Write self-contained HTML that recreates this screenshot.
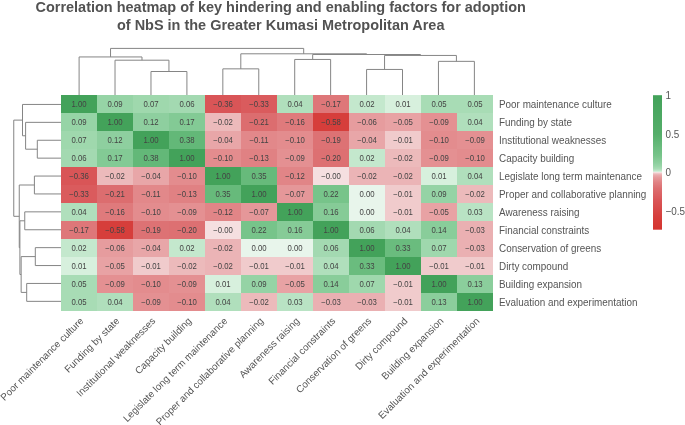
<!DOCTYPE html>
<html><head><meta charset="utf-8"><style>
html,body{margin:0;padding:0;background:#fff;}
svg{display:block;will-change:transform;font-family:"Liberation Sans",sans-serif;}
</style></head><body>
<svg width="685" height="425" viewBox="0 0 685 425">
<rect width="685" height="425" fill="#fff"/>
<g font-size="14.48" font-weight="bold" fill="#525252" text-anchor="middle"><text x="280.7" y="11.6">Correlation heatmap of key hindering and enabling factors for adoption</text><text x="280.7" y="29.7">of NbS in the Greater Kumasi Metropolitan Area</text></g>
<g shape-rendering="crispEdges"><rect x="61" y="95" width="36" height="18" fill="#43a25a"/><rect x="97" y="95" width="36" height="18" fill="#96d4a6"/><rect x="133" y="95" width="36" height="18" fill="#9fd8ad"/><rect x="169" y="95" width="36" height="18" fill="#a3d9b1"/><rect x="205" y="95" width="36" height="18" fill="#d95557"/><rect x="241" y="95" width="36" height="18" fill="#da5b5d"/><rect x="277" y="95" width="36" height="18" fill="#b0dfbc"/><rect x="313" y="95" width="36" height="18" fill="#de7779"/><rect x="349" y="95" width="36" height="18" fill="#c4e8cd"/><rect x="385" y="95" width="36" height="18" fill="#d7f0dd"/><rect x="421" y="95" width="36" height="18" fill="#a8dcb5"/><rect x="457" y="95" width="36" height="18" fill="#a8dcb5"/><rect x="61" y="113" width="36" height="18" fill="#96d4a6"/><rect x="97" y="113" width="36" height="18" fill="#43a25a"/><rect x="133" y="113" width="36" height="18" fill="#8ecf9f"/><rect x="169" y="113" width="36" height="18" fill="#83ca95"/><rect x="205" y="113" width="36" height="18" fill="#ecbabb"/><rect x="241" y="113" width="36" height="18" fill="#dc6d6f"/><rect x="277" y="113" width="36" height="18" fill="#df7a7c"/><rect x="313" y="113" width="36" height="18" fill="#d63e3b"/><rect x="349" y="113" width="36" height="18" fill="#e69c9e"/><rect x="385" y="113" width="36" height="18" fill="#e8a2a4"/><rect x="421" y="113" width="36" height="18" fill="#e49092"/><rect x="457" y="113" width="36" height="18" fill="#b0dfbc"/><rect x="61" y="131" width="36" height="18" fill="#9fd8ad"/><rect x="97" y="131" width="36" height="18" fill="#8ecf9f"/><rect x="133" y="131" width="36" height="18" fill="#43a25a"/><rect x="169" y="131" width="36" height="18" fill="#63b878"/><rect x="205" y="131" width="36" height="18" fill="#e8a6a8"/><rect x="241" y="131" width="36" height="18" fill="#e2888a"/><rect x="277" y="131" width="36" height="18" fill="#e38c8e"/><rect x="313" y="131" width="36" height="18" fill="#dd7274"/><rect x="349" y="131" width="36" height="18" fill="#e8a6a8"/><rect x="385" y="131" width="36" height="18" fill="#f0cbcc"/><rect x="421" y="131" width="36" height="18" fill="#e38c8e"/><rect x="457" y="131" width="36" height="18" fill="#e49092"/><rect x="61" y="149" width="36" height="18" fill="#a3d9b1"/><rect x="97" y="149" width="36" height="18" fill="#83ca95"/><rect x="133" y="149" width="36" height="18" fill="#63b878"/><rect x="169" y="149" width="36" height="18" fill="#43a25a"/><rect x="205" y="149" width="36" height="18" fill="#e38c8e"/><rect x="241" y="149" width="36" height="18" fill="#e08183"/><rect x="277" y="149" width="36" height="18" fill="#e49092"/><rect x="313" y="149" width="36" height="18" fill="#dd7072"/><rect x="349" y="149" width="36" height="18" fill="#c4e8cd"/><rect x="385" y="149" width="36" height="18" fill="#ecbabb"/><rect x="421" y="149" width="36" height="18" fill="#e49092"/><rect x="457" y="149" width="36" height="18" fill="#e38c8e"/><rect x="61" y="167" width="36" height="18" fill="#d95557"/><rect x="97" y="167" width="36" height="18" fill="#ecbabb"/><rect x="133" y="167" width="36" height="18" fill="#e8a6a8"/><rect x="169" y="167" width="36" height="18" fill="#e38c8e"/><rect x="205" y="167" width="36" height="18" fill="#43a25a"/><rect x="241" y="167" width="36" height="18" fill="#67ba7b"/><rect x="277" y="167" width="36" height="18" fill="#e18587"/><rect x="313" y="167" width="36" height="18" fill="#f5dfe0"/><rect x="349" y="167" width="36" height="18" fill="#ebb4b6"/><rect x="385" y="167" width="36" height="18" fill="#ebb4b6"/><rect x="421" y="167" width="36" height="18" fill="#d7f0dd"/><rect x="457" y="167" width="36" height="18" fill="#b0dfbc"/><rect x="61" y="185" width="36" height="18" fill="#da5b5d"/><rect x="97" y="185" width="36" height="18" fill="#dc6d6f"/><rect x="133" y="185" width="36" height="18" fill="#e2888a"/><rect x="169" y="185" width="36" height="18" fill="#e08183"/><rect x="205" y="185" width="36" height="18" fill="#67ba7b"/><rect x="241" y="185" width="36" height="18" fill="#43a25a"/><rect x="277" y="185" width="36" height="18" fill="#e59799"/><rect x="313" y="185" width="36" height="18" fill="#77c48a"/><rect x="349" y="185" width="36" height="18" fill="#e8f5eb"/><rect x="385" y="185" width="36" height="18" fill="#f0cbcc"/><rect x="421" y="185" width="36" height="18" fill="#95d3a5"/><rect x="457" y="185" width="36" height="18" fill="#ecbabb"/><rect x="61" y="203" width="36" height="18" fill="#b0dfbc"/><rect x="97" y="203" width="36" height="18" fill="#df7a7c"/><rect x="133" y="203" width="36" height="18" fill="#e38c8e"/><rect x="169" y="203" width="36" height="18" fill="#e49092"/><rect x="205" y="203" width="36" height="18" fill="#e18587"/><rect x="241" y="203" width="36" height="18" fill="#e59799"/><rect x="277" y="203" width="36" height="18" fill="#43a25a"/><rect x="313" y="203" width="36" height="18" fill="#86cb97"/><rect x="349" y="203" width="36" height="18" fill="#e8f5eb"/><rect x="385" y="203" width="36" height="18" fill="#f0cbcc"/><rect x="421" y="203" width="36" height="18" fill="#e8a2a4"/><rect x="457" y="203" width="36" height="18" fill="#b9e3c4"/><rect x="61" y="221" width="36" height="18" fill="#de7779"/><rect x="97" y="221" width="36" height="18" fill="#d63e3b"/><rect x="133" y="221" width="36" height="18" fill="#dd7274"/><rect x="169" y="221" width="36" height="18" fill="#dd7072"/><rect x="205" y="221" width="36" height="18" fill="#f5dfe0"/><rect x="241" y="221" width="36" height="18" fill="#77c48a"/><rect x="277" y="221" width="36" height="18" fill="#86cb97"/><rect x="313" y="221" width="36" height="18" fill="#43a25a"/><rect x="349" y="221" width="36" height="18" fill="#a3d9b1"/><rect x="385" y="221" width="36" height="18" fill="#b0dfbc"/><rect x="421" y="221" width="36" height="18" fill="#89cd9a"/><rect x="457" y="221" width="36" height="18" fill="#eab0b2"/><rect x="61" y="239" width="36" height="18" fill="#c4e8cd"/><rect x="97" y="239" width="36" height="18" fill="#e69c9e"/><rect x="133" y="239" width="36" height="18" fill="#e8a6a8"/><rect x="169" y="239" width="36" height="18" fill="#c4e8cd"/><rect x="205" y="239" width="36" height="18" fill="#ebb4b6"/><rect x="241" y="239" width="36" height="18" fill="#e8f5eb"/><rect x="277" y="239" width="36" height="18" fill="#e8f5eb"/><rect x="313" y="239" width="36" height="18" fill="#a3d9b1"/><rect x="349" y="239" width="36" height="18" fill="#43a25a"/><rect x="385" y="239" width="36" height="18" fill="#6abc7e"/><rect x="421" y="239" width="36" height="18" fill="#9fd8ad"/><rect x="457" y="239" width="36" height="18" fill="#eab0b2"/><rect x="61" y="257" width="36" height="18" fill="#d7f0dd"/><rect x="97" y="257" width="36" height="18" fill="#e8a2a4"/><rect x="133" y="257" width="36" height="18" fill="#f0cbcc"/><rect x="169" y="257" width="36" height="18" fill="#ecbabb"/><rect x="205" y="257" width="36" height="18" fill="#ebb4b6"/><rect x="241" y="257" width="36" height="18" fill="#f0cbcc"/><rect x="277" y="257" width="36" height="18" fill="#f0cbcc"/><rect x="313" y="257" width="36" height="18" fill="#b0dfbc"/><rect x="349" y="257" width="36" height="18" fill="#6abc7e"/><rect x="385" y="257" width="36" height="18" fill="#43a25a"/><rect x="421" y="257" width="36" height="18" fill="#f0cbcc"/><rect x="457" y="257" width="36" height="18" fill="#f0cbcc"/><rect x="61" y="275" width="36" height="18" fill="#a8dcb5"/><rect x="97" y="275" width="36" height="18" fill="#e49092"/><rect x="133" y="275" width="36" height="18" fill="#e38c8e"/><rect x="169" y="275" width="36" height="18" fill="#e49092"/><rect x="205" y="275" width="36" height="18" fill="#d7f0dd"/><rect x="241" y="275" width="36" height="18" fill="#95d3a5"/><rect x="277" y="275" width="36" height="18" fill="#e8a2a4"/><rect x="313" y="275" width="36" height="18" fill="#89cd9a"/><rect x="349" y="275" width="36" height="18" fill="#9fd8ad"/><rect x="385" y="275" width="36" height="18" fill="#f0cbcc"/><rect x="421" y="275" width="36" height="18" fill="#43a25a"/><rect x="457" y="275" width="36" height="18" fill="#8bce9c"/><rect x="61" y="293" width="36" height="18" fill="#a8dcb5"/><rect x="97" y="293" width="36" height="18" fill="#b0dfbc"/><rect x="133" y="293" width="36" height="18" fill="#e49092"/><rect x="169" y="293" width="36" height="18" fill="#e38c8e"/><rect x="205" y="293" width="36" height="18" fill="#b0dfbc"/><rect x="241" y="293" width="36" height="18" fill="#ecbabb"/><rect x="277" y="293" width="36" height="18" fill="#b9e3c4"/><rect x="313" y="293" width="36" height="18" fill="#eab0b2"/><rect x="349" y="293" width="36" height="18" fill="#eab0b2"/><rect x="385" y="293" width="36" height="18" fill="#f0cbcc"/><rect x="421" y="293" width="36" height="18" fill="#8bce9c"/><rect x="457" y="293" width="36" height="18" fill="#43a25a"/></g>
<g font-size="7.8" fill="#444" text-anchor="middle"><text transform="translate(79.0,106.95) scale(1,1.1)">1.00</text><text transform="translate(115.0,106.95) scale(1,1.1)">0.09</text><text transform="translate(151.0,106.95) scale(1,1.1)">0.07</text><text transform="translate(187.0,106.95) scale(1,1.1)">0.06</text><text transform="translate(223.0,106.95) scale(1,1.1)">−0.36</text><text transform="translate(259.0,106.95) scale(1,1.1)">−0.33</text><text transform="translate(295.0,106.95) scale(1,1.1)">0.04</text><text transform="translate(331.0,106.95) scale(1,1.1)">−0.17</text><text transform="translate(367.0,106.95) scale(1,1.1)">0.02</text><text transform="translate(403.0,106.95) scale(1,1.1)">0.01</text><text transform="translate(439.0,106.95) scale(1,1.1)">0.05</text><text transform="translate(475.0,106.95) scale(1,1.1)">0.05</text><text transform="translate(79.0,124.95) scale(1,1.1)">0.09</text><text transform="translate(115.0,124.95) scale(1,1.1)">1.00</text><text transform="translate(151.0,124.95) scale(1,1.1)">0.12</text><text transform="translate(187.0,124.95) scale(1,1.1)">0.17</text><text transform="translate(223.0,124.95) scale(1,1.1)">−0.02</text><text transform="translate(259.0,124.95) scale(1,1.1)">−0.21</text><text transform="translate(295.0,124.95) scale(1,1.1)">−0.16</text><text transform="translate(331.0,124.95) scale(1,1.1)">−0.58</text><text transform="translate(367.0,124.95) scale(1,1.1)">−0.06</text><text transform="translate(403.0,124.95) scale(1,1.1)">−0.05</text><text transform="translate(439.0,124.95) scale(1,1.1)">−0.09</text><text transform="translate(475.0,124.95) scale(1,1.1)">0.04</text><text transform="translate(79.0,142.95) scale(1,1.1)">0.07</text><text transform="translate(115.0,142.95) scale(1,1.1)">0.12</text><text transform="translate(151.0,142.95) scale(1,1.1)">1.00</text><text transform="translate(187.0,142.95) scale(1,1.1)">0.38</text><text transform="translate(223.0,142.95) scale(1,1.1)">−0.04</text><text transform="translate(259.0,142.95) scale(1,1.1)">−0.11</text><text transform="translate(295.0,142.95) scale(1,1.1)">−0.10</text><text transform="translate(331.0,142.95) scale(1,1.1)">−0.19</text><text transform="translate(367.0,142.95) scale(1,1.1)">−0.04</text><text transform="translate(403.0,142.95) scale(1,1.1)">−0.01</text><text transform="translate(439.0,142.95) scale(1,1.1)">−0.10</text><text transform="translate(475.0,142.95) scale(1,1.1)">−0.09</text><text transform="translate(79.0,160.95) scale(1,1.1)">0.06</text><text transform="translate(115.0,160.95) scale(1,1.1)">0.17</text><text transform="translate(151.0,160.95) scale(1,1.1)">0.38</text><text transform="translate(187.0,160.95) scale(1,1.1)">1.00</text><text transform="translate(223.0,160.95) scale(1,1.1)">−0.10</text><text transform="translate(259.0,160.95) scale(1,1.1)">−0.13</text><text transform="translate(295.0,160.95) scale(1,1.1)">−0.09</text><text transform="translate(331.0,160.95) scale(1,1.1)">−0.20</text><text transform="translate(367.0,160.95) scale(1,1.1)">0.02</text><text transform="translate(403.0,160.95) scale(1,1.1)">−0.02</text><text transform="translate(439.0,160.95) scale(1,1.1)">−0.09</text><text transform="translate(475.0,160.95) scale(1,1.1)">−0.10</text><text transform="translate(79.0,178.95) scale(1,1.1)">−0.36</text><text transform="translate(115.0,178.95) scale(1,1.1)">−0.02</text><text transform="translate(151.0,178.95) scale(1,1.1)">−0.04</text><text transform="translate(187.0,178.95) scale(1,1.1)">−0.10</text><text transform="translate(223.0,178.95) scale(1,1.1)">1.00</text><text transform="translate(259.0,178.95) scale(1,1.1)">0.35</text><text transform="translate(295.0,178.95) scale(1,1.1)">−0.12</text><text transform="translate(331.0,178.95) scale(1,1.1)">−0.00</text><text transform="translate(367.0,178.95) scale(1,1.1)">−0.02</text><text transform="translate(403.0,178.95) scale(1,1.1)">−0.02</text><text transform="translate(439.0,178.95) scale(1,1.1)">0.01</text><text transform="translate(475.0,178.95) scale(1,1.1)">0.04</text><text transform="translate(79.0,196.95) scale(1,1.1)">−0.33</text><text transform="translate(115.0,196.95) scale(1,1.1)">−0.21</text><text transform="translate(151.0,196.95) scale(1,1.1)">−0.11</text><text transform="translate(187.0,196.95) scale(1,1.1)">−0.13</text><text transform="translate(223.0,196.95) scale(1,1.1)">0.35</text><text transform="translate(259.0,196.95) scale(1,1.1)">1.00</text><text transform="translate(295.0,196.95) scale(1,1.1)">−0.07</text><text transform="translate(331.0,196.95) scale(1,1.1)">0.22</text><text transform="translate(367.0,196.95) scale(1,1.1)">0.00</text><text transform="translate(403.0,196.95) scale(1,1.1)">−0.01</text><text transform="translate(439.0,196.95) scale(1,1.1)">0.09</text><text transform="translate(475.0,196.95) scale(1,1.1)">−0.02</text><text transform="translate(79.0,214.95) scale(1,1.1)">0.04</text><text transform="translate(115.0,214.95) scale(1,1.1)">−0.16</text><text transform="translate(151.0,214.95) scale(1,1.1)">−0.10</text><text transform="translate(187.0,214.95) scale(1,1.1)">−0.09</text><text transform="translate(223.0,214.95) scale(1,1.1)">−0.12</text><text transform="translate(259.0,214.95) scale(1,1.1)">−0.07</text><text transform="translate(295.0,214.95) scale(1,1.1)">1.00</text><text transform="translate(331.0,214.95) scale(1,1.1)">0.16</text><text transform="translate(367.0,214.95) scale(1,1.1)">0.00</text><text transform="translate(403.0,214.95) scale(1,1.1)">−0.01</text><text transform="translate(439.0,214.95) scale(1,1.1)">−0.05</text><text transform="translate(475.0,214.95) scale(1,1.1)">0.03</text><text transform="translate(79.0,232.95) scale(1,1.1)">−0.17</text><text transform="translate(115.0,232.95) scale(1,1.1)">−0.58</text><text transform="translate(151.0,232.95) scale(1,1.1)">−0.19</text><text transform="translate(187.0,232.95) scale(1,1.1)">−0.20</text><text transform="translate(223.0,232.95) scale(1,1.1)">−0.00</text><text transform="translate(259.0,232.95) scale(1,1.1)">0.22</text><text transform="translate(295.0,232.95) scale(1,1.1)">0.16</text><text transform="translate(331.0,232.95) scale(1,1.1)">1.00</text><text transform="translate(367.0,232.95) scale(1,1.1)">0.06</text><text transform="translate(403.0,232.95) scale(1,1.1)">0.04</text><text transform="translate(439.0,232.95) scale(1,1.1)">0.14</text><text transform="translate(475.0,232.95) scale(1,1.1)">−0.03</text><text transform="translate(79.0,250.95) scale(1,1.1)">0.02</text><text transform="translate(115.0,250.95) scale(1,1.1)">−0.06</text><text transform="translate(151.0,250.95) scale(1,1.1)">−0.04</text><text transform="translate(187.0,250.95) scale(1,1.1)">0.02</text><text transform="translate(223.0,250.95) scale(1,1.1)">−0.02</text><text transform="translate(259.0,250.95) scale(1,1.1)">0.00</text><text transform="translate(295.0,250.95) scale(1,1.1)">0.00</text><text transform="translate(331.0,250.95) scale(1,1.1)">0.06</text><text transform="translate(367.0,250.95) scale(1,1.1)">1.00</text><text transform="translate(403.0,250.95) scale(1,1.1)">0.33</text><text transform="translate(439.0,250.95) scale(1,1.1)">0.07</text><text transform="translate(475.0,250.95) scale(1,1.1)">−0.03</text><text transform="translate(79.0,268.95) scale(1,1.1)">0.01</text><text transform="translate(115.0,268.95) scale(1,1.1)">−0.05</text><text transform="translate(151.0,268.95) scale(1,1.1)">−0.01</text><text transform="translate(187.0,268.95) scale(1,1.1)">−0.02</text><text transform="translate(223.0,268.95) scale(1,1.1)">−0.02</text><text transform="translate(259.0,268.95) scale(1,1.1)">−0.01</text><text transform="translate(295.0,268.95) scale(1,1.1)">−0.01</text><text transform="translate(331.0,268.95) scale(1,1.1)">0.04</text><text transform="translate(367.0,268.95) scale(1,1.1)">0.33</text><text transform="translate(403.0,268.95) scale(1,1.1)">1.00</text><text transform="translate(439.0,268.95) scale(1,1.1)">−0.01</text><text transform="translate(475.0,268.95) scale(1,1.1)">−0.01</text><text transform="translate(79.0,286.95) scale(1,1.1)">0.05</text><text transform="translate(115.0,286.95) scale(1,1.1)">−0.09</text><text transform="translate(151.0,286.95) scale(1,1.1)">−0.10</text><text transform="translate(187.0,286.95) scale(1,1.1)">−0.09</text><text transform="translate(223.0,286.95) scale(1,1.1)">0.01</text><text transform="translate(259.0,286.95) scale(1,1.1)">0.09</text><text transform="translate(295.0,286.95) scale(1,1.1)">−0.05</text><text transform="translate(331.0,286.95) scale(1,1.1)">0.14</text><text transform="translate(367.0,286.95) scale(1,1.1)">0.07</text><text transform="translate(403.0,286.95) scale(1,1.1)">−0.01</text><text transform="translate(439.0,286.95) scale(1,1.1)">1.00</text><text transform="translate(475.0,286.95) scale(1,1.1)">0.13</text><text transform="translate(79.0,304.95) scale(1,1.1)">0.05</text><text transform="translate(115.0,304.95) scale(1,1.1)">0.04</text><text transform="translate(151.0,304.95) scale(1,1.1)">−0.09</text><text transform="translate(187.0,304.95) scale(1,1.1)">−0.10</text><text transform="translate(223.0,304.95) scale(1,1.1)">0.04</text><text transform="translate(259.0,304.95) scale(1,1.1)">−0.02</text><text transform="translate(295.0,304.95) scale(1,1.1)">0.03</text><text transform="translate(331.0,304.95) scale(1,1.1)">−0.03</text><text transform="translate(367.0,304.95) scale(1,1.1)">−0.03</text><text transform="translate(403.0,304.95) scale(1,1.1)">−0.01</text><text transform="translate(439.0,304.95) scale(1,1.1)">0.13</text><text transform="translate(475.0,304.95) scale(1,1.1)">1.00</text></g>
<g fill="none" stroke="#858585" stroke-width="1"><polyline points="150.97,95.00 150.97,71.50 186.91,71.50 186.91,95.00"/><polyline points="115.03,95.00 115.03,60.20 168.94,60.20 168.94,71.50"/><polyline points="79.10,95.00 79.10,56.95 141.99,56.95 141.99,60.20"/><polyline points="222.84,95.00 222.84,68.85 258.77,68.85 258.77,95.00"/><polyline points="294.71,95.00 294.71,59.45 330.64,59.45 330.64,95.00"/><polyline points="366.58,95.00 366.58,69.45 402.51,69.45 402.51,95.00"/><polyline points="438.45,95.00 438.45,61.35 474.38,61.35 474.38,95.00"/><polyline points="384.55,69.45 384.55,55.45 456.42,55.45 456.42,61.35"/><polyline points="312.68,59.45 312.68,54.50 420.48,54.50 420.48,55.45"/><polyline points="240.81,68.85 240.81,53.80 366.58,53.80 366.58,54.50"/><polyline points="110.54,56.95 110.54,48.40 303.69,48.40 303.69,53.80"/><polyline points="61.00,140.25 37.30,140.25 37.30,158.15 61.00,158.15"/><polyline points="61.00,122.35 25.60,122.35 25.60,149.20 37.30,149.20"/><polyline points="61.00,104.45 22.50,104.45 22.50,135.77 25.60,135.77"/><polyline points="61.00,176.05 34.40,176.05 34.40,193.95 61.00,193.95"/><polyline points="61.00,211.85 24.75,211.85 24.75,229.75 61.00,229.75"/><polyline points="61.00,247.65 35.30,247.65 35.30,265.55 61.00,265.55"/><polyline points="61.00,283.45 26.70,283.45 26.70,301.35 61.00,301.35"/><polyline points="35.30,256.60 21.15,256.60 21.15,292.40 26.70,292.40"/><polyline points="24.75,220.80 19.90,220.80 19.90,274.50 21.15,274.50"/><polyline points="34.40,185.00 19.25,185.00 19.25,247.65 19.90,247.65"/><polyline points="22.50,120.11 13.75,120.11 13.75,216.32 19.25,216.32"/></g>
<g font-size="9.9" fill="#555"><text transform="translate(499.00,107.55) scale(1,1.09)">Poor maintenance culture</text><text transform="translate(499.00,125.55) scale(1,1.09)">Funding by state</text><text transform="translate(499.00,143.55) scale(1,1.09)">Institutional weaknesses</text><text transform="translate(499.00,161.55) scale(1,1.09)">Capacity building</text><text transform="translate(499.00,179.55) scale(1,1.09)">Legislate long term maintenance</text><text transform="translate(499.00,197.55) scale(1,1.09)">Proper and collaborative planning</text><text transform="translate(499.00,215.55) scale(1,1.09)">Awareness raising</text><text transform="translate(499.00,233.55) scale(1,1.09)">Financial constraints</text><text transform="translate(499.00,251.55) scale(1,1.09)">Conservation of greens</text><text transform="translate(499.00,269.55) scale(1,1.09)">Dirty compound</text><text transform="translate(499.00,287.55) scale(1,1.09)">Building expansion</text><text transform="translate(499.00,305.55) scale(1,1.09)">Evaluation and experimentation</text></g>
<g font-size="9.9" fill="#555"><text transform="translate(79.0,316.5) rotate(-45)" text-anchor="end" dominant-baseline="hanging">Poor maintenance culture</text><text transform="translate(115.0,316.5) rotate(-45)" text-anchor="end" dominant-baseline="hanging">Funding by state</text><text transform="translate(151.0,316.5) rotate(-45)" text-anchor="end" dominant-baseline="hanging">Institutional weaknesses</text><text transform="translate(187.0,316.5) rotate(-45)" text-anchor="end" dominant-baseline="hanging">Capacity building</text><text transform="translate(223.0,316.5) rotate(-45)" text-anchor="end" dominant-baseline="hanging">Legislate long term maintenance</text><text transform="translate(259.0,316.5) rotate(-45)" text-anchor="end" dominant-baseline="hanging">Proper and collaborative planning</text><text transform="translate(295.0,316.5) rotate(-45)" text-anchor="end" dominant-baseline="hanging">Awareness raising</text><text transform="translate(331.0,316.5) rotate(-45)" text-anchor="end" dominant-baseline="hanging">Financial constraints</text><text transform="translate(367.0,316.5) rotate(-45)" text-anchor="end" dominant-baseline="hanging">Conservation of greens</text><text transform="translate(403.0,316.5) rotate(-45)" text-anchor="end" dominant-baseline="hanging">Dirty compound</text><text transform="translate(439.0,316.5) rotate(-45)" text-anchor="end" dominant-baseline="hanging">Building expansion</text><text transform="translate(475.0,316.5) rotate(-45)" text-anchor="end" dominant-baseline="hanging">Evaluation and experimentation</text></g>
<defs><linearGradient id="lg" x1="0" y1="0" x2="0" y2="1"><stop offset="0.0000" stop-color="#43a25a"/><stop offset="0.0050" stop-color="#43a25a"/><stop offset="0.0100" stop-color="#43a25a"/><stop offset="0.0150" stop-color="#44a35b"/><stop offset="0.0200" stop-color="#44a35b"/><stop offset="0.0250" stop-color="#44a35b"/><stop offset="0.0300" stop-color="#45a35c"/><stop offset="0.0350" stop-color="#45a35c"/><stop offset="0.0400" stop-color="#45a45c"/><stop offset="0.0450" stop-color="#46a45c"/><stop offset="0.0500" stop-color="#46a45d"/><stop offset="0.0550" stop-color="#46a45d"/><stop offset="0.0600" stop-color="#47a45d"/><stop offset="0.0650" stop-color="#47a55e"/><stop offset="0.0700" stop-color="#47a55e"/><stop offset="0.0750" stop-color="#48a55e"/><stop offset="0.0800" stop-color="#48a55e"/><stop offset="0.0850" stop-color="#48a55f"/><stop offset="0.0900" stop-color="#49a65f"/><stop offset="0.0950" stop-color="#49a65f"/><stop offset="0.1000" stop-color="#49a65f"/><stop offset="0.1050" stop-color="#49a660"/><stop offset="0.1100" stop-color="#4aa760"/><stop offset="0.1150" stop-color="#4aa760"/><stop offset="0.1200" stop-color="#4aa761"/><stop offset="0.1250" stop-color="#4ba761"/><stop offset="0.1300" stop-color="#4ba761"/><stop offset="0.1350" stop-color="#4ba861"/><stop offset="0.1400" stop-color="#4ca862"/><stop offset="0.1450" stop-color="#4ca862"/><stop offset="0.1500" stop-color="#4ca862"/><stop offset="0.1550" stop-color="#4da863"/><stop offset="0.1600" stop-color="#4da963"/><stop offset="0.1650" stop-color="#4da963"/><stop offset="0.1700" stop-color="#4ea963"/><stop offset="0.1750" stop-color="#4ea964"/><stop offset="0.1800" stop-color="#4ea964"/><stop offset="0.1850" stop-color="#4eaa64"/><stop offset="0.1900" stop-color="#4faa64"/><stop offset="0.1950" stop-color="#4faa65"/><stop offset="0.2000" stop-color="#4faa65"/><stop offset="0.2050" stop-color="#50ab65"/><stop offset="0.2100" stop-color="#50ab66"/><stop offset="0.2150" stop-color="#50ab66"/><stop offset="0.2200" stop-color="#51ab66"/><stop offset="0.2250" stop-color="#51ab66"/><stop offset="0.2300" stop-color="#51ac67"/><stop offset="0.2350" stop-color="#52ac67"/><stop offset="0.2400" stop-color="#52ac67"/><stop offset="0.2450" stop-color="#52ac68"/><stop offset="0.2500" stop-color="#53ac68"/><stop offset="0.2550" stop-color="#53ad68"/><stop offset="0.2600" stop-color="#53ad68"/><stop offset="0.2650" stop-color="#54ad69"/><stop offset="0.2700" stop-color="#54ad69"/><stop offset="0.2750" stop-color="#54ad69"/><stop offset="0.2800" stop-color="#54ae6a"/><stop offset="0.2850" stop-color="#55ae6a"/><stop offset="0.2900" stop-color="#55ae6a"/><stop offset="0.2950" stop-color="#56af6b"/><stop offset="0.3000" stop-color="#57b06c"/><stop offset="0.3050" stop-color="#58b06d"/><stop offset="0.3100" stop-color="#59b16e"/><stop offset="0.3150" stop-color="#5ab26f"/><stop offset="0.3200" stop-color="#5bb370"/><stop offset="0.3250" stop-color="#5cb371"/><stop offset="0.3300" stop-color="#5db472"/><stop offset="0.3350" stop-color="#5eb573"/><stop offset="0.3400" stop-color="#60b674"/><stop offset="0.3450" stop-color="#61b676"/><stop offset="0.3500" stop-color="#62b777"/><stop offset="0.3550" stop-color="#63b878"/><stop offset="0.3600" stop-color="#64b878"/><stop offset="0.3650" stop-color="#65b979"/><stop offset="0.3700" stop-color="#66b97a"/><stop offset="0.3750" stop-color="#67ba7b"/><stop offset="0.3800" stop-color="#68bb7c"/><stop offset="0.3850" stop-color="#6abc7e"/><stop offset="0.3900" stop-color="#6bbd7f"/><stop offset="0.3950" stop-color="#6cbd80"/><stop offset="0.4000" stop-color="#6dbe81"/><stop offset="0.4050" stop-color="#6ebe82"/><stop offset="0.4100" stop-color="#6fbf83"/><stop offset="0.4150" stop-color="#70c084"/><stop offset="0.4200" stop-color="#71c085"/><stop offset="0.4250" stop-color="#72c185"/><stop offset="0.4300" stop-color="#73c286"/><stop offset="0.4350" stop-color="#74c287"/><stop offset="0.4400" stop-color="#75c388"/><stop offset="0.4450" stop-color="#76c489"/><stop offset="0.4500" stop-color="#78c48a"/><stop offset="0.4550" stop-color="#7ac58c"/><stop offset="0.4600" stop-color="#7cc68e"/><stop offset="0.4650" stop-color="#7ec790"/><stop offset="0.4700" stop-color="#80c892"/><stop offset="0.4750" stop-color="#82c994"/><stop offset="0.4800" stop-color="#84ca96"/><stop offset="0.4850" stop-color="#86cb97"/><stop offset="0.4900" stop-color="#88cc99"/><stop offset="0.4950" stop-color="#89cd9a"/><stop offset="0.5000" stop-color="#8bce9c"/><stop offset="0.5050" stop-color="#8dcf9e"/><stop offset="0.5100" stop-color="#90d0a1"/><stop offset="0.5150" stop-color="#92d2a3"/><stop offset="0.5200" stop-color="#95d3a5"/><stop offset="0.5250" stop-color="#97d5a7"/><stop offset="0.5300" stop-color="#9bd6aa"/><stop offset="0.5350" stop-color="#9fd8ad"/><stop offset="0.5400" stop-color="#a3d9b1"/><stop offset="0.5450" stop-color="#a7dbb4"/><stop offset="0.5500" stop-color="#addeba"/><stop offset="0.5550" stop-color="#b5e1c0"/><stop offset="0.5600" stop-color="#bee5c8"/><stop offset="0.5650" stop-color="#caead2"/><stop offset="0.5700" stop-color="#daf1e0"/><stop offset="0.5750" stop-color="#f5dedf"/><stop offset="0.5800" stop-color="#f0cdce"/><stop offset="0.5850" stop-color="#edbdbe"/><stop offset="0.5900" stop-color="#ebb3b5"/><stop offset="0.5950" stop-color="#e9abad"/><stop offset="0.6000" stop-color="#e8a4a6"/><stop offset="0.6050" stop-color="#e7a0a2"/><stop offset="0.6100" stop-color="#e69b9d"/><stop offset="0.6150" stop-color="#e59799"/><stop offset="0.6200" stop-color="#e59496"/><stop offset="0.6250" stop-color="#e49193"/><stop offset="0.6300" stop-color="#e38d8f"/><stop offset="0.6350" stop-color="#e28a8c"/><stop offset="0.6400" stop-color="#e28789"/><stop offset="0.6450" stop-color="#e18486"/><stop offset="0.6500" stop-color="#e08183"/><stop offset="0.6550" stop-color="#e07f81"/><stop offset="0.6600" stop-color="#df7d7f"/><stop offset="0.6650" stop-color="#df7b7d"/><stop offset="0.6700" stop-color="#de787a"/><stop offset="0.6750" stop-color="#de7678"/><stop offset="0.6800" stop-color="#dd7476"/><stop offset="0.6850" stop-color="#dd7173"/><stop offset="0.6900" stop-color="#dd7072"/><stop offset="0.6950" stop-color="#dc6d6f"/><stop offset="0.7000" stop-color="#dc6c6e"/><stop offset="0.7050" stop-color="#dc6a6c"/><stop offset="0.7100" stop-color="#dc696b"/><stop offset="0.7150" stop-color="#db686a"/><stop offset="0.7200" stop-color="#db6668"/><stop offset="0.7250" stop-color="#db6567"/><stop offset="0.7300" stop-color="#db6466"/><stop offset="0.7350" stop-color="#db6264"/><stop offset="0.7400" stop-color="#db6163"/><stop offset="0.7450" stop-color="#db6062"/><stop offset="0.7500" stop-color="#da5f61"/><stop offset="0.7550" stop-color="#da5d5f"/><stop offset="0.7600" stop-color="#da5c5e"/><stop offset="0.7650" stop-color="#da5b5d"/><stop offset="0.7700" stop-color="#da595b"/><stop offset="0.7750" stop-color="#d95759"/><stop offset="0.7800" stop-color="#d95557"/><stop offset="0.7850" stop-color="#d95456"/><stop offset="0.7900" stop-color="#d95355"/><stop offset="0.7950" stop-color="#d95254"/><stop offset="0.8000" stop-color="#d95153"/><stop offset="0.8050" stop-color="#d85152"/><stop offset="0.8100" stop-color="#d85051"/><stop offset="0.8150" stop-color="#d84f4f"/><stop offset="0.8200" stop-color="#d84e4e"/><stop offset="0.8250" stop-color="#d84d4d"/><stop offset="0.8300" stop-color="#d84c4c"/><stop offset="0.8350" stop-color="#d84b4b"/><stop offset="0.8400" stop-color="#d84a4a"/><stop offset="0.8450" stop-color="#d74949"/><stop offset="0.8500" stop-color="#d74848"/><stop offset="0.8550" stop-color="#d74747"/><stop offset="0.8600" stop-color="#d74745"/><stop offset="0.8650" stop-color="#d74644"/><stop offset="0.8700" stop-color="#d74543"/><stop offset="0.8750" stop-color="#d74442"/><stop offset="0.8800" stop-color="#d74341"/><stop offset="0.8850" stop-color="#d74240"/><stop offset="0.8900" stop-color="#d6413f"/><stop offset="0.8950" stop-color="#d6403e"/><stop offset="0.9000" stop-color="#d63f3d"/><stop offset="0.9050" stop-color="#d63e3b"/><stop offset="0.9100" stop-color="#d63e3b"/><stop offset="0.9150" stop-color="#d63d3a"/><stop offset="0.9200" stop-color="#d63d39"/><stop offset="0.9250" stop-color="#d63c39"/><stop offset="0.9300" stop-color="#d63c38"/><stop offset="0.9350" stop-color="#d63b38"/><stop offset="0.9400" stop-color="#d63b37"/><stop offset="0.9450" stop-color="#d63a36"/><stop offset="0.9500" stop-color="#d63a36"/><stop offset="0.9550" stop-color="#d63935"/><stop offset="0.9600" stop-color="#d53934"/><stop offset="0.9650" stop-color="#d53834"/><stop offset="0.9700" stop-color="#d53833"/><stop offset="0.9750" stop-color="#d53733"/><stop offset="0.9800" stop-color="#d53632"/><stop offset="0.9850" stop-color="#d53631"/><stop offset="0.9900" stop-color="#d53531"/><stop offset="0.9950" stop-color="#d53530"/><stop offset="1.0000" stop-color="#d53430"/></linearGradient></defs><rect x="653" y="95.20" width="9" height="134.50" fill="url(#lg)"/>
<g font-size="9.9" fill="#555"><text transform="translate(665.5,99.10) scale(1,1.1)">1</text><text transform="translate(665.5,137.60) scale(1,1.1)">0.5</text><text transform="translate(665.5,176.10) scale(1,1.1)">0</text><text transform="translate(665.5,214.60) scale(1,1.1)">−0.5</text></g>
</svg>
</body></html>
